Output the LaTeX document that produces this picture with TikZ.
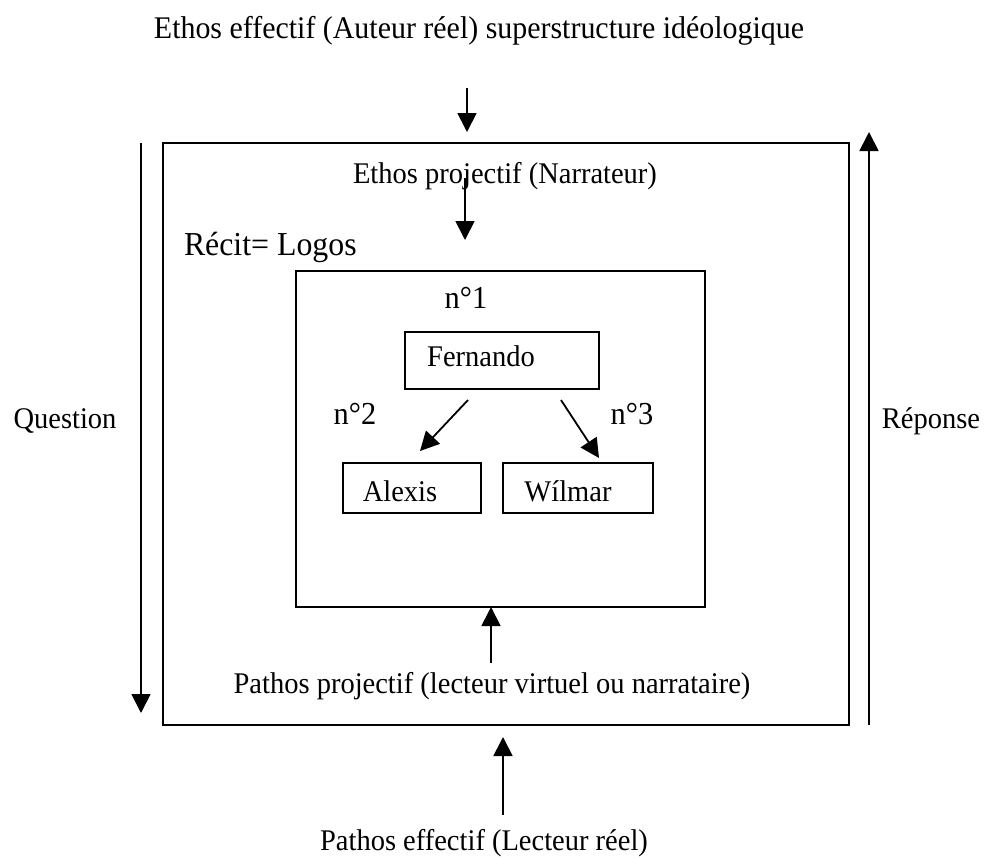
\documentclass[tikz,border=0pt]{standalone}
\usepackage{fontspec}
\setmainfont{Liberation Serif}[FakeStretch=0.95]
\usetikzlibrary{arrows.meta}
\begin{document}
\begin{tikzpicture}[x=1pt,y=-1pt,
  every node/.style={font=\fontsize{30}{36}\selectfont, inner sep=0pt, outer sep=0pt},
  big/.style={font=\fontsize{33.5}{40}\selectfont},
  num/.style={font=\fontsize{32}{38}\selectfont},
  title/.style={font=\fontsize{31.5}{38}\selectfont},
  box/.style={draw, line width=1.6pt, rectangle},
  arr/.style={line width=1.8pt, -{Triangle[length=19pt,width=19pt]}},
  lbl/.style={anchor=base}]
\useasboundingbox (0,0) rectangle (984,859);
\fill[white] (0,0) rectangle (984,859);
% boxes
\node[box, minimum width=686pt, minimum height=582pt] (outer) at (506,434) {};
\node[box, minimum width=409pt, minimum height=336pt] (inner) at (500.5,439) {};
\node[box, minimum width=194pt, minimum height=57pt] (fern) at (502,360.5) {};
\node[box, minimum width=138pt, minimum height=50pt] (alex) at (412,488) {};
\node[box, minimum width=150pt, minimum height=50pt] (wilm) at (578,488) {};
% texts
\node[lbl, title] (ethosE) at (479,38) {Ethos effectif (Auteur réel) superstructure idéologique};
\node[lbl] (ethosP) at (505,183) {Ethos projectif (Narrateur)};
\node[lbl, big, anchor=base west] (recit) at (184,255) {Récit= Logos};
\node[lbl, num] (n1) at (466,308) {n°1};
\node[lbl] (tFern) at (481,366) {Fernando};
\node[lbl, num] (n2) at (355,424) {n°2};
\node[lbl, num] (n3) at (632,424) {n°3};
\node[lbl] (tAlex) at (400,501) {Alexis};
\node[lbl] (tWilm) at (568,501) {Wílmar};
\node[lbl] (quest) at (65,428) {Question};
\node[lbl] (rep) at (931,428) {Réponse};
\node[lbl] (pathP) at (492,693) {Pathos projectif (lecteur virtuel ou narrataire)};
\node[lbl] (pathE) at (484,850) {Pathos effectif (Lecteur réel)};
% connector end points
\coordinate (a1s) at (467,88);   \coordinate (a1e) at (467,132);
\coordinate (a2s) at (465,178);  \coordinate (a2e) at (465,240);
\coordinate (qs) at (141,143);   \coordinate (qe) at (141,713);
\coordinate (rs) at (869,725);   \coordinate (re) at (869,132);
\coordinate (f1s) at (468,400);  \coordinate (f1e) at (420,451);
\coordinate (f2s) at (561,400);  \coordinate (f2e) at (599,458);
\coordinate (p1s) at (491,663);  \coordinate (p1e) at (491,607);
\coordinate (p2s) at (503,815);  \coordinate (p2e) at (503,737);
% connectors
\draw[arr] (a1s) -- (a1e);
\draw[arr] (a2s) -- (a2e);
\draw[arr] (qs) -- (qe);
\draw[arr] (rs) -- (re);
\draw[arr] (f1s) -- (f1e);
\draw[arr] (f2s) -- (f2e);
\draw[arr] (p1s) -- (p1e);
\draw[arr] (p2s) -- (p2e);
\end{tikzpicture}
\end{document}
